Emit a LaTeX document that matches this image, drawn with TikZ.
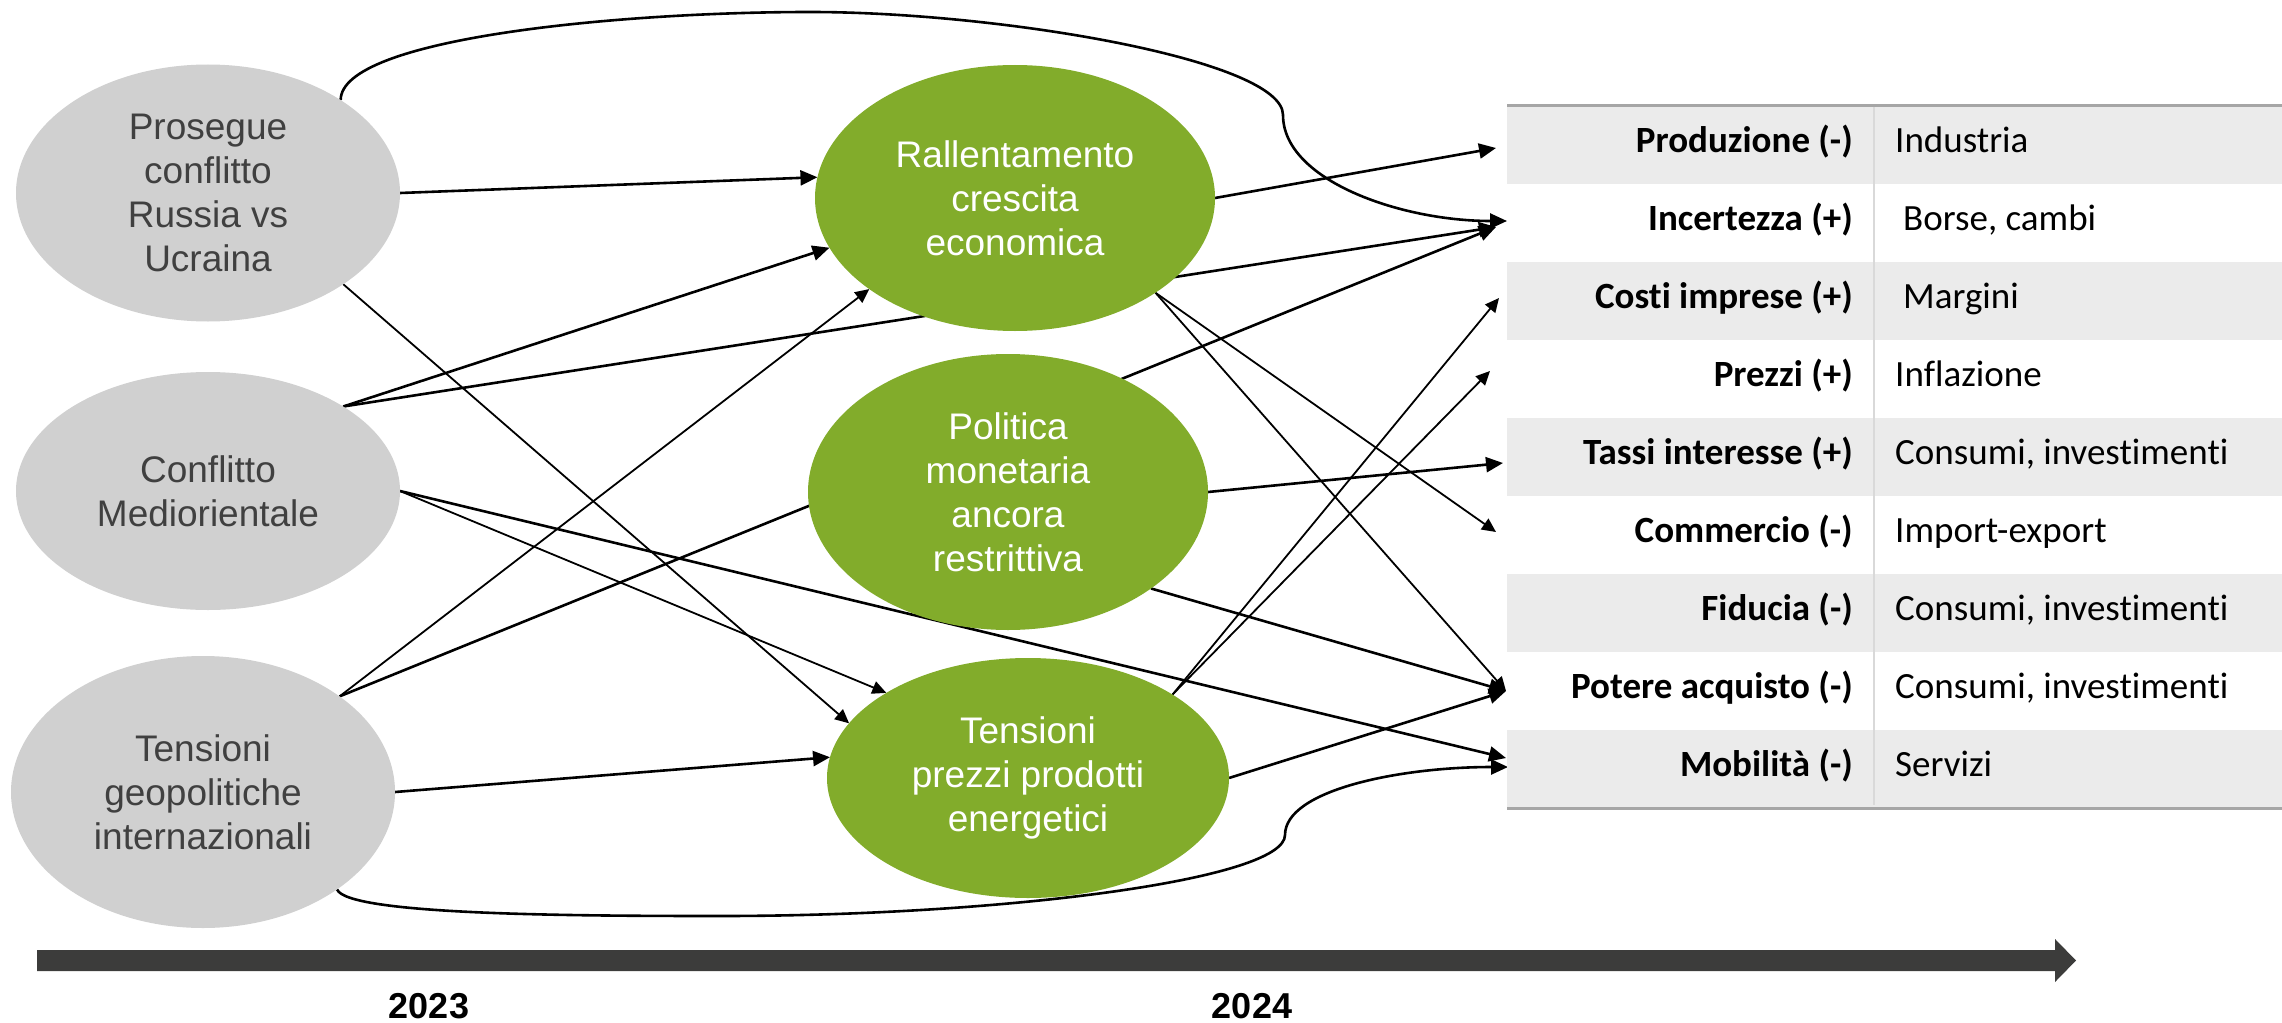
\documentclass[tikz,border=0pt]{standalone}
\usepackage{fontspec}
\setmainfont{Liberation Sans}
\newfontfamily\tabfont[Ligatures=NoCommon]{Carlito}
\usetikzlibrary{arrows.meta,shapes.geometric}
\pgfdeclarelayer{bg}
\pgfsetlayers{bg,main}
\definecolor{ellgrey}{HTML}{D0D0D0}
\definecolor{ellgreen}{HTML}{82AC2B}
\definecolor{txtgrey}{HTML}{404040}
\definecolor{rowgrey}{HTML}{EBEBEB}
\definecolor{bordergrey}{HTML}{A6A6A6}
\definecolor{divgrey}{HTML}{D9D9D9}
\definecolor{bargrey}{HTML}{3C3C3B}
\begin{document}
\begin{tikzpicture}[x=1pt,y=-1pt,
  cause/.style={ellipse, fill=ellgrey, text=txtgrey, inner sep=0pt, outer sep=0pt, align=center, font=\fontsize{37}{44}\selectfont},
  effect/.style={ellipse, fill=ellgreen, text=white, inner sep=0pt, outer sep=0pt, align=center, font=\fontsize{37}{44}\selectfont},
  rowbox/.style={rectangle, minimum width=775pt, minimum height=78pt, inner sep=0pt, outer sep=0pt},
  lab/.style={anchor=base east, inner sep=0pt, font=\tabfont\bfseries\fontsize{37}{40}\selectfont},
  val/.style={anchor=base west, inner sep=0pt, font=\tabfont\fontsize{37}{40}\selectfont},
  conthick/.style={line width=2.6pt, -{Triangle[length=17pt,width=15pt]}},
  conthin/.style={line width=1.8pt, -{Triangle[length=14pt,width=13pt]}},
  yearlab/.style={inner sep=0pt, font=\bfseries\fontsize{36}{40}\selectfont}
]
\useasboundingbox (0,0) rectangle (2282,1022);

% causes
\node[cause, minimum width=384pt, minimum height=257pt] (E1) at (208,193) {Prosegue\\conflitto\\Russia vs\\Ucraina};
\node[cause, minimum width=384pt, minimum height=238pt] (E2) at (208,491) {Conflitto\\Mediorientale};
\node[cause, minimum width=384pt, minimum height=272pt] (E3) at (203,792) {Tensioni\\geopolitiche\\internazionali};

% effects
\node[effect, minimum width=400pt, minimum height=266pt] (A) at (1015,198) {Rallentamento\\crescita\\economica};
\node[effect, minimum width=400pt, minimum height=276pt] (B) at (1008,492) {Politica\\monetaria\\ancora\\restrittiva};
\node[effect, minimum width=402pt, minimum height=240pt] (C) at (1028,778) {Tensioni\\prezzi prodotti\\energetici};

% table rows
\node[rowbox, fill=rowgrey] (r1) at (1894.5,145) {};
\node[rowbox] (r2) at (1894.5,223) {};
\node[rowbox, fill=rowgrey] (r3) at (1894.5,301) {};
\node[rowbox] (r4) at (1894.5,379) {};
\node[rowbox, fill=rowgrey] (r5) at (1894.5,457) {};
\node[rowbox] (r6) at (1894.5,535) {};
\node[rowbox, fill=rowgrey] (r7) at (1894.5,613) {};
\node[rowbox] (r8) at (1894.5,691) {};
\node[rowbox, fill=rowgrey] (r9) at (1894.5,769) {};
\draw[divgrey, line width=1.2pt] (1874,106) -- (1874,805);
\draw[bordergrey, line width=3pt] (r1.north west) -- (r1.north east);
\draw[bordergrey, line width=3pt] (r9.south west) -- (r9.south east);

\node[lab] (l1) at (1853,152) {Produzione (-)};
\node[lab] (l2) at (1853,230) {Incertezza (+)};
\node[lab] (l3) at (1853,308) {Costi imprese (+)};
\node[lab] (l4) at (1853,386) {Prezzi (+)};
\node[lab] (l5) at (1853,464) {Tassi interesse (+)};
\node[lab] (l6) at (1853,542) {Commercio (-)};
\node[lab] (l7) at (1853,620) {Fiducia (-)};
\node[lab] (l8) at (1853,698) {Potere acquisto (-)};
\node[lab] (l9) at (1853,776) {Mobilità (-)};

\node[val] (v1) at (1895,152) {Industria};
\node[val] (v2) at (1903,230) {Borse, cambi};
\node[val] (v3) at (1903,308) {Margini};
\node[val] (v4) at (1895,386) {Inflazione};
\node[val] (v5) at (1895,464) {Consumi, investimenti};
\node[val] (v6) at (1895,542) {Import-export};
\node[val] (v7) at (1895,620) {Consumi, investimenti};
\node[val] (v8) at (1895,698) {Consumi, investimenti};
\node[val] (v9) at (1895,776) {Servizi};

% timeline
\fill[bargrey] (37,950) -- (2055,950) -- (2055,939) -- (2076,960.5) -- (2055,982) -- (2055,971) -- (37,971) -- cycle;
\node[yearlab] (y23) at (429,1006) {2023};
\node[yearlab] (y24) at (1252,1006) {2024};

% arrow targets
\coordinate (t1) at ([shift={(-11,3)}]r1.west);
\coordinate (t2) at ([shift={(-11,4)}]r2.west);
\coordinate (t2a) at ([shift={(0,-2)}]r2.west);
\coordinate (t3) at ([shift={(-8,-3)}]r3.west);
\coordinate (t4) at ([shift={(-17,-8)}]r4.west);
\coordinate (t5) at ([shift={(-4,6)}]r5.west);
\coordinate (t6) at ([shift={(-11,-3)}]r6.west);
\coordinate (t8) at ([shift={(-1,0)}]r8.west);
\coordinate (t9a) at ([shift={(-1,-11)}]r9.west);
\coordinate (t9b) at ([shift={(1,-2)}]r9.west);
\coordinate (k1) at (810,12);
\coordinate (k2) at (1283,115);
\coordinate (k3) at (720,916);
\coordinate (k4) at (1285,835);

\begin{pgfonlayer}{bg}
\draw[conthick] (E1.east) -- (A.174);
\draw[conthin] (E1.-34) -- (C.163);
\draw[conthick] (E1.35) .. controls +(0,-62) and +(-190,0) .. (k1)
  .. controls +(190,0) and +(0,-55) .. (k2)
  .. controls +(0,65) and +(-107,0) .. (t2a);
\draw[conthick] (E2.32) -- (A.195);
\draw[conthick] (E2.32) -- (t2);
\draw[conthin] (E2.east) -- (C.149);
\draw[conthick] (E2.east) -- (t9a);
\draw[conthin] (E3.35) -- (A.212);
\draw[conthick] (E3.35) -- (t2);
\draw[conthick] (E3.east) -- (C.174);
\draw[conthick] (E3.-36) .. controls +(10,25) and +(-160,0) .. (k3)
  .. controls +(280,0) and +(0,45) .. (k4)
  .. controls +(0,-45) and +(-108,0) .. (t9b);
\draw[conthick] (A.east) -- (t1);
\draw[conthin] (A.-34) -- (t6);
\draw[conthin] (A.-34) -- (t8);
\draw[conthick] (B.east) -- (t5);
\draw[conthick] (B.-34) -- (t8);
\draw[conthin] (C.30) -- (t3);
\draw[conthin] (C.30) -- (t4);
\draw[conthick] (C.east) -- (t8);
\end{pgfonlayer}
\end{tikzpicture}
\end{document}
